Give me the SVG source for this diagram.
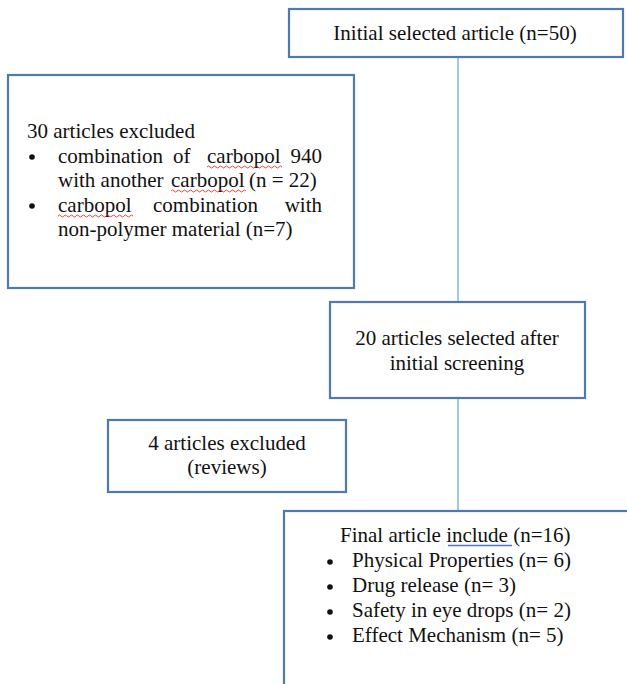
<svg xmlns="http://www.w3.org/2000/svg" width="627" height="684" viewBox="0 0 627 684">
<style>
.box{fill:#ffffff;stroke:#4f7ab0;stroke-width:2.2}
.t{font-family:"Liberation Serif","Times New Roman",serif;font-size:21px;fill:#111}
.m{text-anchor:middle}
.sq{fill:none;stroke:#e0312b;stroke-width:0.9}
</style>
<rect width="627" height="684" fill="#ffffff"/>
<g id="connectors">
<line x1="458" y1="57" x2="458" y2="302" stroke="#8db8e8" stroke-width="1.6"/>
<line x1="458" y1="398" x2="458" y2="511" stroke="#8db8e8" stroke-width="1.6"/>
</g>
<g id="node-initial">
<rect class="box" x="289" y="9" width="334" height="48"/>
<text class="t m" x="455" y="40">Initial selected article (n=50)</text>
</g>
<g id="node-excluded30">
<rect class="box" x="8" y="75" width="346" height="213"/>
<text class="t" x="27" y="138">30 articles excluded</text>
<circle cx="32" cy="157" r="2.8" fill="#111"/>
<text class="t" x="58" y="163">combination</text>
<text class="t" x="173" y="163">of</text>
<text class="t" x="207" y="163">carbopol</text>
<text class="t" x="322" y="163" text-anchor="end">940</text>
<text class="t" x="58" y="187">with another</text>
<text class="t" x="171" y="187">carbopol</text>
<text class="t" x="249" y="187">(n = 22)</text>
<circle cx="32" cy="206" r="2.8" fill="#111"/>
<text class="t" x="58" y="212">carbopol</text>
<text class="t" x="153" y="212">combination</text>
<text class="t" x="322" y="212" text-anchor="end">with</text>
<text class="t" x="58" y="236">non-polymer material (n=7)</text>
<path class="sq" d="M207 167 q1.5 -2 3 0 t3 0 t3 0 t3 0 t3 0 t3 0 t3 0 t3 0 t3 0 t3 0 t3 0 t3 0 t3 0 t3 0 t3 0 t3 0 t3 0 t3 0 t3 0 t3 0 t3 0 t3 0 t3 0 t3 0 t3 0"/>
<path class="sq" d="M171 191 q1.5 -2 3 0 t3 0 t3 0 t3 0 t3 0 t3 0 t3 0 t3 0 t3 0 t3 0 t3 0 t3 0 t3 0 t3 0 t3 0 t3 0 t3 0 t3 0 t3 0 t3 0 t3 0 t3 0 t3 0 t3 0 t3 0"/>
<path class="sq" d="M58 216 q1.5 -2 3 0 t3 0 t3 0 t3 0 t3 0 t3 0 t3 0 t3 0 t3 0 t3 0 t3 0 t3 0 t3 0 t3 0 t3 0 t3 0 t3 0 t3 0 t3 0 t3 0 t3 0 t3 0 t3 0 t3 0 t3 0"/>
</g>
<g id="node-selected20">
<rect class="box" x="330" y="302" width="255" height="96"/>
<text class="t m" x="457" y="345">20 articles selected after</text>
<text class="t m" x="457" y="370">initial screening</text>
</g>
<g id="node-excluded4">
<rect class="box" x="108" y="420" width="238" height="72"/>
<text class="t m" x="227" y="450">4 articles excluded</text>
<text class="t m" x="227" y="474">(reviews)</text>
</g>
<g id="node-final">
<rect class="box" x="284" y="511" width="360" height="190"/>
<text class="t" x="340" y="542">Final article include (n=16)</text>
<line x1="448" y1="545.5" x2="512" y2="545.5" stroke="#4a78c8" stroke-width="1.6"/>
<circle cx="330" cy="562" r="2.8" fill="#111"/>
<text class="t" x="352" y="567">Physical Properties (n= 6)</text>
<circle cx="330" cy="587" r="2.8" fill="#111"/>
<text class="t" x="352" y="592">Drug release (n= 3)</text>
<circle cx="330" cy="612" r="2.8" fill="#111"/>
<text class="t" x="352" y="617">Safety in eye drops (n= 2)</text>
<circle cx="330" cy="637" r="2.8" fill="#111"/>
<text class="t" x="352" y="642">Effect Mechanism (n= 5)</text>
</g>
</svg>
